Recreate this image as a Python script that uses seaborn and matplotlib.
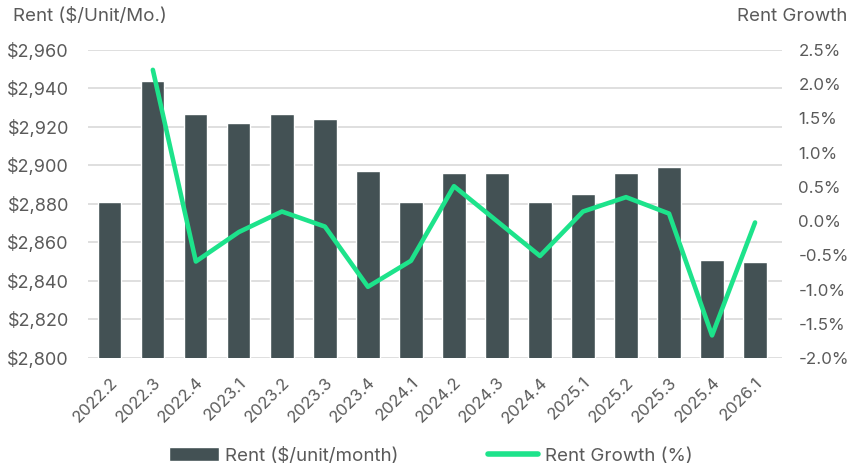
import numpy as np
import pandas as pd
import matplotlib
matplotlib.use("Agg")
import matplotlib.pyplot as plt
import seaborn as sns
from matplotlib.ticker import FuncFormatter
from matplotlib.patches import Patch
from matplotlib.lines import Line2D

# data
quarters = ["2022.2", "2022.3", "2022.4", "2023.1", "2023.2", "2023.3", "2023.4", "2024.1",
            "2024.2", "2024.3", "2024.4", "2025.1", "2025.2", "2025.3", "2025.4", "2026.1"]
rent = [2881, 2944, 2927, 2922, 2927, 2924, 2897, 2881,
        2896, 2896, 2881, 2885, 2896, 2899, 2851, 2850]
growth = [np.nan, 2.21, -0.59, -0.16, 0.14, -0.08, -0.96, -0.58,
          0.51, 0.00, -0.51, 0.14, 0.35, 0.11, -1.67, -0.02]

BAR = "#435154"
LINE = "#1de38b"
TXT = "#5a5a5a"

sns.set_theme(style="white")
plt.rcParams["font.family"] = ["Inter", "DejaVu Sans"]

df = pd.DataFrame({"quarter": quarters, "rent": rent, "growth": growth})
df["pos"] = np.arange(len(df))

fig = plt.figure(figsize=(8.51, 4.69), dpi=100)
ax = fig.add_axes([0.1038, 0.2367, 0.8148, 0.6567])

sns.barplot(data=df, x="quarter", y="rent", color=BAR, width=0.54, saturation=1, ax=ax, zorder=2)
ax.set_ylim(2800, 2960)
ax.set_yticks(np.arange(2800, 2961, 20))
ax.yaxis.set_major_formatter(FuncFormatter(lambda v, p: f"${v:,.0f}"))
ax.grid(axis="y", color="#d9d9d9", linewidth=1.2, zorder=0)
ax.set_axisbelow(True)
ax.set_xlabel("")
ax.set_ylabel("")
ax.tick_params(axis="y", labelsize=13, labelcolor=TXT, length=0, pad=14)
ax.tick_params(axis="x", labelsize=12, labelcolor=TXT, length=0, pad=12)
plt.setp(ax.get_xticklabels(), rotation=45, ha="right", rotation_mode="anchor")
for s in ax.spines.values():
    s.set_visible(False)

# growth line on the right axis
ax2 = ax.twinx()
sns.lineplot(data=df.dropna(), x="pos", y="growth", color=LINE, linewidth=3.3, ax=ax2)
for ln in ax2.get_lines():
    ln.set_solid_joinstyle("round")
    ln.set_solid_capstyle("round")
ax2.set_ylim(-2.0, 2.5)
ax2.set_yticks(np.arange(-2.0, 2.51, 0.5))
ax2.yaxis.set_major_formatter(FuncFormatter(lambda v, p: f"{v:.1f}%"))
ax2.set_ylabel("")
ax2.set_xlabel("")
ax2.tick_params(axis="y", labelsize=12.2, labelcolor=TXT, length=0, pad=12)
ax2.grid(False)
for s in ax2.spines.values():
    s.set_visible(False)
ax.set_xlim(-0.5, 15.62)

fig.text(0.015, 0.965, "Rent ($/Unit/Mo.)", fontsize=13.5, color=TXT, va="center")
fig.text(0.996, 0.965, "Rent Growth", fontsize=13.5, color=TXT, va="center", ha="right")

handles = [Patch(facecolor=BAR, label="Rent ($/unit/month)"),
           Line2D([0], [0], color=LINE, linewidth=4, solid_capstyle="round", label="Rent Growth (%)")]
fig.legend(handles=handles, loc="center", bbox_to_anchor=(0.506, 0.028), ncol=2, frameon=False,
           fontsize=13.5, labelcolor=TXT, handlelength=2.65, handleheight=0.75, columnspacing=4.8,
           handletextpad=0.35)

fig.savefig("out.png", dpi=100)
